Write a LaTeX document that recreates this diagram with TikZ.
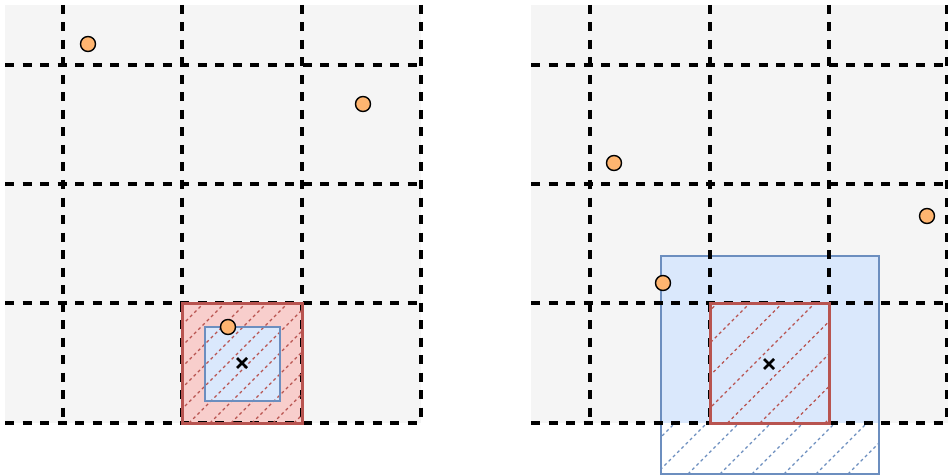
\documentclass[tikz,border=0pt]{standalone}
\definecolor{panelgray}{HTML}{F5F5F5}
\definecolor{redfill}{HTML}{F8CECC}
\definecolor{redline}{HTML}{B85450}
\definecolor{bluefill}{HTML}{DAE8FC}
\definecolor{blueline}{HTML}{6C8EBF}
\definecolor{orangefill}{HTML}{FFB570}
\tikzset{
  gridline/.style={line width=3.2pt, dash pattern=on 9pt off 8.5pt, black},
  hatchred/.style={line width=1.2pt, dash pattern=on 3pt off 3pt, redline},
  hatchblue/.style={line width=1.2pt, dash pattern=on 3pt off 3pt, blueline},
  redbox/.style={line width=3pt, draw=redline},
  bluebox/.style={line width=1.6pt, draw=blueline},
  dot/.style={circle, draw=black, line width=1.4pt, fill=orangefill, minimum size=15pt, inner sep=0pt},
  cross/.style={line width=2.8pt, black}
}
\begin{document}
\begin{tikzpicture}[x=1pt,y=-1pt]
\useasboundingbox (0,0) rectangle (948,476);
% ---------- left panel ----------
\fill[panelgray] (5,5) rectangle (421,423);
\fill[redfill] (182,303) rectangle (302,423);
\fill[bluefill] (205,327) rectangle (280,401);
\foreach \x in {63,182,302,421} \draw[gridline] (\x,5) -- (\x,423);
\foreach \y in {65,184,303,423} \draw[gridline] (5,\y) -- (421,\y);
\begin{scope}
  \clip (182,303) rectangle (302,423);
  \foreach \k in {-4,...,11} \draw[hatchred] ({528+21*\k-423},423) -- ({528+21*\k-303},303);
\end{scope}
\draw[bluebox] (205,327) rectangle (280,401);
\draw[redbox] (182,303) rectangle (302,423);
\draw[cross] (237,358) -- (247,368) (237,368) -- (247,358);
\node[dot] (l1) at (88,44) {};
\node[dot] (l2) at (363,104) {};
\node[dot] (l3) at (228,327) {};
% ---------- right panel ----------
\fill[panelgray] (531,5) rectangle (948,423);
\fill[bluefill] (661,256) rectangle (879,423);
\fill[white] (661,423) rectangle (879,474);
\begin{scope}
  \clip (661,423) rectangle (879,474);
  \foreach \k in {-2,...,9} \draw[hatchblue] ({1098+32*\k-474},474) -- ({1098+32*\k-423},423);
\end{scope}
\draw[bluebox] (661,256) rectangle (879,474);
\foreach \x in {590,710,829,947} \draw[gridline] (\x,5) -- (\x,423);
\foreach \y in {65,184,303,423} \draw[gridline] (531,\y) -- (948,\y);
\fill[bluefill] (710,303) rectangle (829,423);
\begin{scope}
  \clip (710,303) rectangle (829,423);
  \foreach \k in {-3,...,8} \draw[hatchred] ({1053+32.5*\k-423},423) -- ({1053+32.5*\k-303},303);
\end{scope}
\draw[redbox] (710,303) rectangle (829,423);
\draw[cross] (764,359) -- (774,369) (764,369) -- (774,359);
\node[dot] (r1) at (614,163) {};
\node[dot] (r2) at (927,216) {};
\node[dot] (r3) at (663,283) {};
\end{tikzpicture}
\end{document}
